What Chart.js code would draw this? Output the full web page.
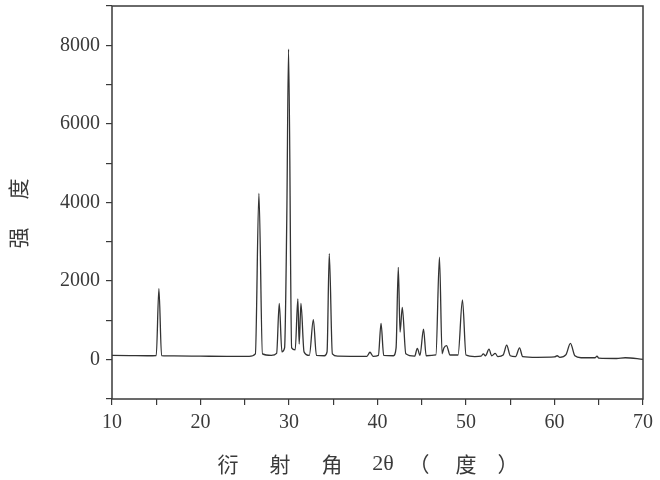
<!DOCTYPE html>
<html>
<head>
<meta charset="utf-8">
<script src="https://cdn.jsdelivr.net/npm/chart.js@4"></script>
<style>
  html, body { margin: 0; padding: 0; background: #fff; }
  #wrap { width: 660px; height: 480px; }
</style>
</head>
<body>
<div id="wrap"><canvas id="chart" width="660" height="480"></canvas></div>
<script>
// diffraction angle 2θ (deg) and intensity
const angles = [
  10.0, 12.0, 14.0, 15.0, 15.3, 15.6, 17.0, 20.0, 23.0, 25.5,
  26.2, 26.6, 27.0, 28.0, 28.6, 28.9, 29.2, 29.5, 29.75, 29.95,
  30.3, 30.7, 31.0, 31.15, 31.35, 31.7, 32.3, 32.75, 33.1, 34.0,
  34.3, 34.55, 34.9, 35.5, 38.8, 39.15, 39.5, 40.1, 40.4, 40.7,
  41.8, 42.1, 42.35, 42.55, 42.8, 43.2, 44.2, 44.5, 44.8, 45.2,
  45.5, 46.6, 47.0, 47.3, 47.5, 47.8, 48.2, 49.1, 49.6, 50.0,
  51.0, 51.7, 51.96, 52.2, 52.6, 52.9, 53.3, 53.6, 54.2, 54.6,
  55.0, 55.6, 56.05, 56.4, 58.0, 60.0, 60.3, 60.6, 61.3, 61.8,
  62.3, 63.0, 64.6, 64.8, 65.0, 67.0, 68.0, 70.0
];
const intensity = [
  110, 105, 100, 105, 1810, 105, 95, 90, 85, 85,
  150, 4230, 150, 110, 160, 1430, 200, 300, 3600, 7900,
  300, 250, 1550, 400, 1430, 200, 110, 1020, 110, 100,
  200, 2700, 150, 90, 85, 190, 85, 110, 925, 110,
  100, 300, 2350, 700, 1330, 150, 90, 290, 110, 780,
  100, 120, 2610, 150, 300, 360, 120, 120, 1520, 120,
  80, 90, 150, 100, 270, 100, 160, 80, 120, 370,
  100, 80, 300, 80, 60, 70, 100, 60, 130, 415,
  100, 50, 50, 90, 40, 30, 50, 10
];

const xTicks = [10, 20, 30, 40, 50, 60, 70];
const yTicks = [0, 2000, 4000, 6000, 8000];

// axis titles, split into the spaced pieces seen in the figure
const xTitle = ["衍", "射", "角", "2θ", "（", "度", "）"];
const yTitle = ["强", "度"];

const serif = "'Liberation Serif', 'DejaVu Serif', serif";
const cjk = "'Noto Sans CJK SC', sans-serif";
const ink = "#3a3a3a";

const frame = {
  id: "frame",
  afterDraw(chart) {
    const { ctx, chartArea: a } = chart;
    ctx.save();
    ctx.strokeStyle = ink;
    ctx.lineWidth = 1.5;
    ctx.strokeRect(a.left, a.top, a.right - a.left, a.bottom - a.top);
    ctx.fillStyle = ink;
    ctx.font = "21px " + cjk;
    ctx.textAlign = "center";
    ctx.textBaseline = "middle";
    const xs = [228, 280, 332, 383, 419, 466, 508];
    xTitle.forEach((t, i) => {
      if (t === "2θ") {
        ctx.font = "22px " + serif;
        ctx.fillText(t, xs[i], 464);
        ctx.font = "21px " + cjk;
      } else ctx.fillText(t, xs[i], 464);
    });
    const ys = [238, 189];
    yTitle.forEach((t, i) => {
      ctx.save();
      ctx.translate(18, ys[i]);
      ctx.rotate(-Math.PI / 2);
      ctx.fillText(t, 0, 0);
      ctx.restore();
    });
    ctx.restore();
  }
};

new Chart(document.getElementById("chart"), {
  type: "line",
  data: {
    datasets: [{
      data: angles.map((a, i) => ({ x: a, y: intensity[i] })),
      borderColor: "#333",
      borderWidth: 1.3,
      pointRadius: 0,
      cubicInterpolationMode: "monotone",
      fill: false
    }]
  },
  options: {
    responsive: false,
    animation: false,
    layout: { padding: { top: 6, right: 17, left: 0, bottom: 0 } },
    plugins: { legend: { display: false }, tooltip: { enabled: false } },
    scales: {
      x: {
        type: "linear",
        min: 10,
        max: 70,
        afterFit(s) { s.height = 81; s.paddingLeft = 0; s.paddingRight = 0; },
        border: { display: false },
        grid: { drawOnChartArea: false, tickLength: 6, tickColor: ink, lineWidth: 1.2 },
        ticks: {
          stepSize: 5,
          padding: 6,
          color: ink,
          font: { family: serif, size: 20 },
          callback: v => xTicks.includes(v) ? v : ""
        }
      },
      y: {
        min: -1000,
        max: 9000,
        afterFit(s) { s.width = 112; s.paddingTop = 0; s.paddingBottom = 0; },
        border: { display: false },
        grid: { drawOnChartArea: false, tickLength: 6, tickColor: ink, lineWidth: 1.2 },
        ticks: {
          stepSize: 1000,
          padding: 6,
          color: ink,
          font: { family: serif, size: 20 },
          callback: v => yTicks.includes(v) ? v : ""
        }
      }
    }
  },
  plugins: [frame]
});
</script>
</body>
</html>
